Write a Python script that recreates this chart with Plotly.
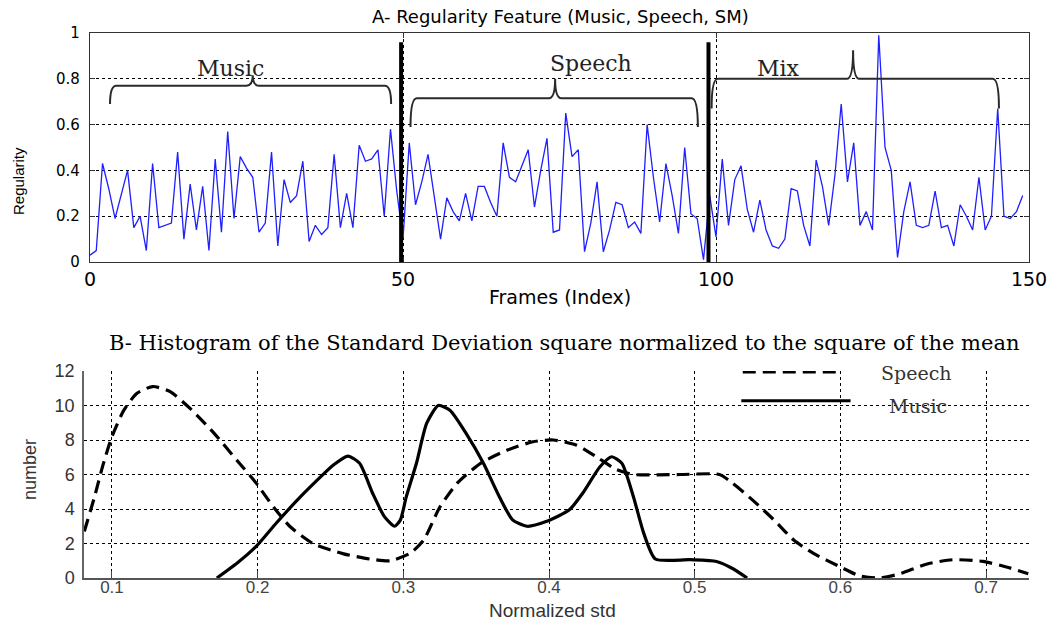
import plotly.graph_objects as go

# ---------------- data: panel A (regularity per frame) ----------------
regularity = [
    0.03, 0.05, 0.43, 0.32, 0.19, 0.30, 0.40, 0.15, 0.20, 0.05,
    0.43, 0.15, 0.16, 0.17, 0.48, 0.10, 0.34, 0.14, 0.33, 0.05,
    0.45, 0.13, 0.57, 0.19, 0.46, 0.41, 0.37, 0.13, 0.17, 0.48,
    0.07, 0.36, 0.26, 0.29, 0.44, 0.09, 0.16, 0.12, 0.15, 0.47,
    0.15, 0.30, 0.15, 0.51, 0.44, 0.45, 0.49, 0.20, 0.58, 0.31,
    0.10, 0.52, 0.25, 0.35, 0.47, 0.28, 0.10, 0.28, 0.22, 0.18,
    0.30, 0.18, 0.33, 0.33, 0.26, 0.20, 0.52, 0.37, 0.35, 0.42,
    0.49, 0.24, 0.40, 0.54, 0.13, 0.14, 0.65, 0.46, 0.49, 0.045,
    0.17, 0.35, 0.045, 0.14, 0.26, 0.25, 0.15, 0.175, 0.125, 0.60,
    0.37, 0.175, 0.43, 0.29, 0.125, 0.50, 0.21, 0.19, 0.01, 0.29,
    0.11, 0.45, 0.16, 0.36, 0.42, 0.23, 0.13, 0.27, 0.14, 0.07,
    0.06, 0.10, 0.32, 0.31, 0.16, 0.07, 0.445, 0.33, 0.16, 0.38,
    0.69, 0.35, 0.52, 0.16, 0.22, 0.14, 0.99, 0.50, 0.40, 0.02,
    0.22, 0.35, 0.16, 0.15, 0.16, 0.31, 0.15, 0.16, 0.07, 0.25,
    0.20, 0.14, 0.37, 0.14, 0.20, 0.67, 0.20, 0.19, 0.22, 0.29,
]
frames = list(range(len(regularity)))

segment_bounds = [49.7, 98.8]          # frame positions of the black separators
segment_labels = ["Music", "Speech", "Mix"]
brace_start = [3.2, 51.2, 99.3]
brace_end = [48.1, 97.1, 145.2]
brace_mid = [26.0, 74.3, 121.9]
brace_level = [0.77, 0.715, 0.80]
brace_foot = [0.69, 0.59, 0.67]
brace_tip = [0.815, 0.80, 0.925]
label_x = [22.4, 80.0, 110.0]
label_y = [0.845, 0.865, 0.845]

xa_tickvals = [0, 50, 100, 150]
xa_ticktext = ["0", "50", "100", "150"]
ya_tickvals = [0, 0.2, 0.4, 0.6, 0.8, 1]
ya_ticktext = ["0", "0.2", "0.4", "0.6", "0.8", "1"]

# ---------------- data: panel B (histogram curves) ----------------
speech_x = [0.081, 0.088, 0.094, 0.100, 0.108, 0.117, 0.128, 0.140, 0.154, 0.170,
            0.186, 0.199, 0.211, 0.222, 0.238, 0.259, 0.277, 0.291, 0.305, 0.314,
            0.325, 0.337, 0.353, 0.371, 0.389, 0.403, 0.419, 0.433, 0.446, 0.458,
            0.490, 0.517, 0.526, 0.540, 0.554, 0.568, 0.581, 0.600, 0.613, 0.627,
            0.641, 0.659, 0.677, 0.698, 0.714, 0.729]
speech_y = [2.7, 4.7, 6.6, 8.2, 9.7, 10.7, 11.1, 10.8, 9.8, 8.4,
            6.8, 5.5, 4.1, 3.0, 2.0, 1.4, 1.1, 1.0, 1.45, 2.2,
            4.1, 5.5, 6.65, 7.4, 7.9, 8.0, 7.7, 7.0, 6.3, 6.0,
            6.0, 6.0, 5.5, 4.5, 3.4, 2.2, 1.45, 0.64, 0.13, 0.0,
            0.25, 0.8, 1.06, 0.96, 0.64, 0.25]

music_x = [0.172, 0.186, 0.199, 0.213, 0.227, 0.240, 0.252, 0.262, 0.270, 0.279,
           0.287, 0.294, 0.298, 0.302, 0.309, 0.316, 0.324, 0.332, 0.343, 0.355,
           0.366, 0.375, 0.385, 0.398, 0.414, 0.423, 0.435, 0.443, 0.450, 0.458,
           0.465, 0.473, 0.497, 0.515, 0.526, 0.536]
music_y = [0.0, 0.87, 1.83, 3.2, 4.5, 5.6, 6.55, 7.07, 6.65, 4.9,
           3.56, 3.0, 3.37, 4.7, 6.65, 8.96, 10.0, 9.73, 8.4, 6.65,
           4.7, 3.37, 3.0, 3.27, 3.95, 4.9, 6.45, 7.03, 6.65, 4.7,
           2.6, 1.1, 1.06, 0.96, 0.55, 0.0]

xb_tickvals = [0.1, 0.2, 0.3, 0.4, 0.5, 0.6, 0.7]
xb_ticktext = ["0.1", "0.2", "0.3", "0.4", "0.5", "0.6", "0.7"]
yb_tickvals = [0, 2, 4, 6, 8, 10, 12]
yb_ticktext = ["0", "2", "4", "6", "8", "10", "12"]

legend_names = ["Speech", "Music"]

# ---------------- figure ----------------
W, H = 1051, 626


def px(x):
    return x / W


def py(y):
    return 1 - y / H


fig = go.Figure()

fig.add_trace(go.Scatter(x=frames, y=regularity, mode="lines",
                         line=dict(color="#1f1fff", width=1.3),
                         xaxis="x", yaxis="y", showlegend=False))

fig.add_trace(go.Scatter(x=speech_x, y=speech_y, mode="lines",
                         line=dict(color="black", width=3.2, dash="13px,7px",
                                   shape="spline", smoothing=0.6),
                         xaxis="x2", yaxis="y2", showlegend=False, name="Speech"))
fig.add_trace(go.Scatter(x=music_x, y=music_y, mode="lines",
                         line=dict(color="black", width=3.2, shape="spline", smoothing=0.6),
                         xaxis="x2", yaxis="y2", showlegend=False, name="Music"))

shapes = []
# thick separators
for b in segment_bounds:
    shapes.append(dict(type="line", xref="x", yref="y", x0=b, x1=b, y0=0, y1=0.96,
                       line=dict(color="black", width=4)))


def brace_path(x0, x1, xm, y, yf, yt, d=1.0):
    return (f"M {x0},{yf} Q {x0},{y} {x0 + d},{y} L {xm - d},{y} "
            f"Q {xm},{y} {xm},{yt} Q {xm},{y} {xm + d},{y} "
            f"L {x1 - d},{y} Q {x1},{y} {x1},{yf}")


for i in range(3):
    shapes.append(dict(type="path", xref="x", yref="y",
                       path=brace_path(brace_start[i], brace_end[i], brace_mid[i],
                                       brace_level[i], brace_foot[i], brace_tip[i]),
                       line=dict(color="#2a2a2a", width=2)))

# manual legend samples for panel B
shapes.append(dict(type="line", xref="x2", yref="y2", x0=0.533, x1=0.600, y0=11.94, y1=11.94,
                   line=dict(color="black", width=3, dash="13px,7px")))
shapes.append(dict(type="line", xref="x2", yref="y2", x0=0.532, x1=0.607, y0=10.27, y1=10.27,
                   line=dict(color="black", width=3)))

annotations = []
for i in range(3):
    annotations.append(dict(x=label_x[i], y=label_y[i], xref="x", yref="y",
                            xanchor="center", yanchor="middle",
                            text=segment_labels[i], showarrow=False,
                            font=dict(family="DejaVu Serif", size=22, color="#222")))

annotations.append(dict(x=0.652, y=11.9, xref="x2", yref="y2", text=legend_names[0],
                        xanchor="center", yanchor="middle",
                        showarrow=False, font=dict(family="DejaVu Serif", size=19, color="#333")))
annotations.append(dict(x=0.653, y=10.0, xref="x2", yref="y2", text=legend_names[1],
                        xanchor="center", yanchor="middle",
                        showarrow=False, font=dict(family="DejaVu Serif", size=19, color="#333")))

sans = "DejaVu Sans"
paper_texts = [
    (560, 17, "A- Regularity Feature (Music, Speech, SM)", sans, 18, "black", 0),
    (560, 297, "Frames (Index)", sans, 19, "black", 0),
    (19, 181, "Regularity", "Liberation Sans", 15, "black", -90),
    (564, 343, "B- Histogram of the Standard Deviation square normalized to the square of the mean",
     "DejaVu Serif", 21, "black", 0),
    (552, 610, "Normalized std", "Liberation Sans", 19, "#333", 0),
    (30, 470, "number", "Liberation Sans", 18, "#333", -90),
]
for (tx, ty, txt, fam, size, col, ang) in paper_texts:
    annotations.append(dict(x=px(tx), y=py(ty), xref="paper", yref="paper", showarrow=False,
                            xanchor="center", yanchor="middle", textangle=ang, text=txt,
                            font=dict(family=fam, size=size, color=col)))

grid_common = dict(showgrid=True, gridcolor="black", griddash="dot", gridwidth=1,
                   zeroline=False, automargin=False)

fig.update_layout(
    width=W, height=H,
    margin=dict(l=0, r=0, t=0, b=0, autoexpand=False),
    paper_bgcolor="white", plot_bgcolor="white",
    showlegend=False,
    shapes=shapes, annotations=annotations,
    xaxis=dict(domain=[px(90), px(1029)], range=[0, 150], anchor="y",
               tickvals=xa_tickvals, ticktext=xa_ticktext,
               tickfont=dict(family=sans, size=19, color="black"),
               ticks="inside", ticklen=5, tickcolor="#333",
               showline=True, linecolor="#333", linewidth=1.2, mirror="ticks",
               **grid_common),
    yaxis=dict(domain=[py(262), py(33)], range=[0, 1], anchor="x",
               tickvals=ya_tickvals, ticktext=ya_ticktext,
               tickfont=dict(family=sans, size=15, color="black"),
               ticks="inside", ticklen=5, tickcolor="#333", ticklabelstandoff=6,
               showline=True, linecolor="#333", linewidth=1.2, mirror="ticks",
               **grid_common),
    xaxis2=dict(domain=[px(84), px(1029)], range=[0.0808, 0.7295], anchor="y2",
                tickvals=xb_tickvals, ticktext=xb_ticktext,
                tickfont=dict(family="Liberation Sans", size=17, color="#444"),
                ticks="inside", ticklen=7, tickcolor="#444", ticklabelstandoff=-7,
                showline=True, linecolor="#555", linewidth=1.5,
                **grid_common),
    yaxis2=dict(domain=[py(578), py(371)], range=[0, 12], anchor="x2",
                tickvals=yb_tickvals, ticktext=yb_ticktext,
                tickfont=dict(family="Liberation Sans", size=18, color="#333"),
                ticks="", ticklabelstandoff=4,
                showline=True, linecolor="#666", linewidth=1.5,
                **grid_common),
)

fig.write_html("out.html")
